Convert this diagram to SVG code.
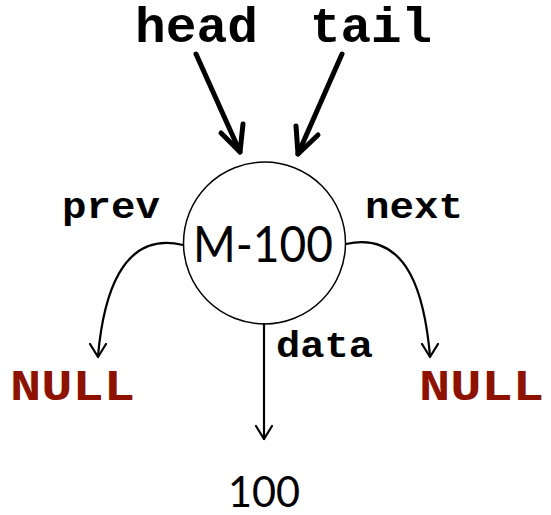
<svg xmlns="http://www.w3.org/2000/svg" width="551" height="515" viewBox="0 0 551 515">
<style>
.mono{font-family:"Liberation Mono","Courier New",monospace;font-weight:bold;fill:#000}
.big{font-size:50px}
.lbl{font-size:37px}
.null{font-size:44px;fill:#8e1200}
.sans{font-family:"Lato","Open Sans",sans-serif;fill:#000}
.thick{stroke:#000;stroke-width:5;fill:none;stroke-linecap:round;stroke-linejoin:round}
.thin{stroke:#000;stroke-width:2.2;fill:none;stroke-linecap:round;stroke-linejoin:round}
</style>
<rect width="551" height="515" fill="#fff"/>
<g id="head"><text class="mono big" x="135" y="42" textLength="123" lengthAdjust="spacingAndGlyphs">head</text></g>
<g id="tail"><text class="mono big" x="310" y="42" textLength="122" lengthAdjust="spacingAndGlyphs">tail</text></g>
<g id="node-m100">
<circle cx="264.5" cy="243" r="81" fill="#fff" stroke="#000" stroke-width="1.5"/>
<text class="sans" x="193" y="262" font-size="50" textLength="140" lengthAdjust="spacingAndGlyphs">M-100</text>
</g>
<g id="null-left"><text class="mono null" x="10" y="400" textLength="125" lengthAdjust="spacingAndGlyphs">NULL</text></g>
<g id="null-right"><text class="mono null" x="419" y="400" textLength="125" lengthAdjust="spacingAndGlyphs">NULL</text></g>
<g id="value-100"><text class="sans" x="228" y="507" font-size="42" textLength="72" lengthAdjust="spacingAndGlyphs">100</text></g>
<g id="connectors">
<path class="thick" d="M196 54 L240 152"/>
<path class="thick" d="M221 133 L240 152 L243 124"/>
<path class="thick" d="M342 54 L298 154"/>
<path class="thick" d="M296 126 L298 154 L318 135"/>
<path class="thin" d="M183 245 C120 230 103 300 98 356"/>
<path class="thin" d="M90 344 L98 357 L106 344"/>
<path class="thin" d="M346 244 C410 230 425 300 430 356"/>
<path class="thin" d="M422 344 L430 357 L438 344"/>
<path class="thin" d="M264 324 L264 439"/>
<path class="thin" d="M256 426 L264 439 L272 426"/>
<text class="mono lbl" x="62" y="218" textLength="98" lengthAdjust="spacingAndGlyphs">prev</text>
<text class="mono lbl" x="365" y="218" textLength="98" lengthAdjust="spacingAndGlyphs">next</text>
<text class="mono lbl" x="276" y="357" textLength="97" lengthAdjust="spacingAndGlyphs">data</text>
</g>
</svg>
